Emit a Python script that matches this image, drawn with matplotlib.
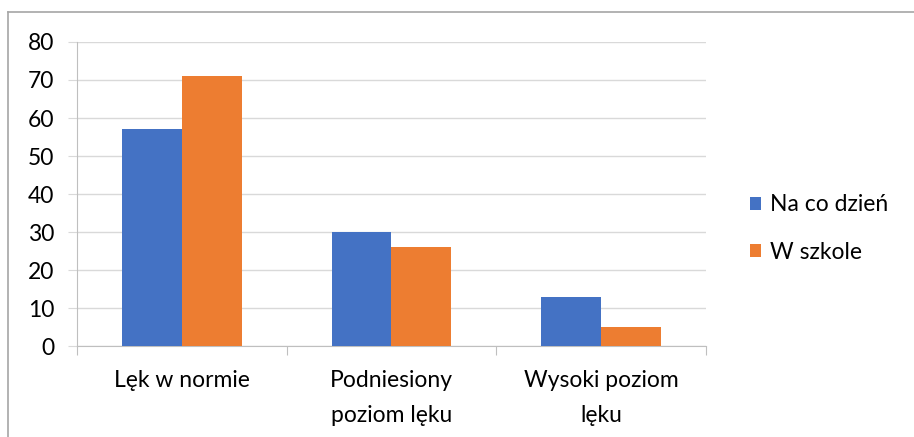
import numpy as np
from matplotlib import pyplot as plt
from matplotlib.lines import Line2D

# DATA
categories = ["Lęk w normie", "Podniesiony\npoziom lęku", "Wysoki poziom\nlęku"]
na_co_dzien = [57, 30, 13]
w_szkole = [71, 26, 5]
series_names = ["Na co dzień", "W szkole"]

plt.rcParams['font.family'] = ['Lato', 'DejaVu Sans']
fs = 16.5

fig = plt.figure(figsize=(9.14, 4.37), dpi=100)
ax = fig.add_axes([0.0842, 0.2082, 0.6882, 0.6957])

x = np.arange(len(categories))
w = 0.286
ax.bar(x - w / 2, na_co_dzien, w, color="#4472C4", label=series_names[0], zorder=3)
ax.bar(x + w / 2, w_szkole, w, color="#ED7D31", label=series_names[1], zorder=3)

ax.set_xlim(-0.5, len(categories) - 0.5)
ax.set_ylim(0, 80)
ax.set_yticks(np.arange(0, 81, 10))
ax.grid(axis="y", color="#d9d9d9", linewidth=1, zorder=0)
ax.tick_params(axis="y", length=6.5, color="#d9d9d9", labelsize=fs, pad=10)

# category boundaries as ticks, labels on minor ticks
ax.set_xticks(np.arange(-0.5, len(categories), 1.0))
ax.set_xticklabels([])
ax.set_xticks(x, minor=True)
ax.set_xticklabels(categories, minor=True, fontsize=fs, linespacing=1.85)
ax.tick_params(axis="x", which="major", length=6.5, color="#bfbfbf")
ax.tick_params(axis="x", which="minor", length=0, pad=17)

for s in ["top", "right"]:
    ax.spines[s].set_visible(False)
ax.spines["left"].set_color("#bfbfbf")
ax.spines["bottom"].set_color("#bfbfbf")

fig.legend(loc="center left", bbox_to_anchor=(0.8206, 0.477), frameon=False,
           fontsize=fs, handlelength=0.5, handleheight=0.5, handletextpad=0.35,
           labelspacing=1.15, borderpad=0, borderaxespad=0)

# chart border
fig.add_artist(Line2D([0.0088, 0.0088], [0, 0.9725], color="#a6a6a6", lw=1.2,
                      transform=fig.transFigure))
fig.add_artist(Line2D([0.0088, 1.0], [0.9725, 0.9725], color="#a6a6a6", lw=1.2,
                      transform=fig.transFigure))

plt.savefig("out.png", dpi=100)
